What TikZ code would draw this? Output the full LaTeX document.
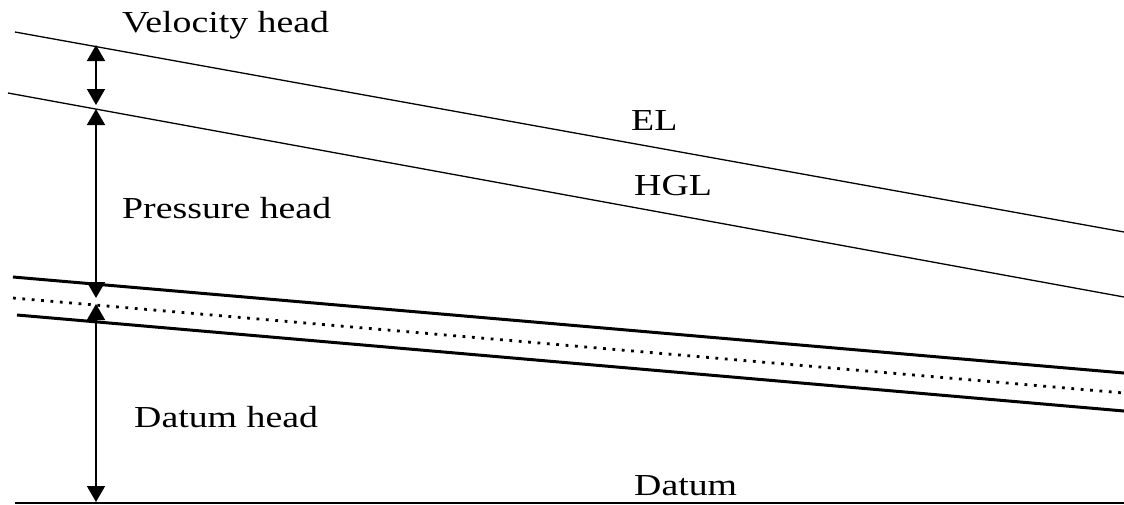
\documentclass[tikz,border=0pt]{standalone}
\usepackage{fontspec}
\usepackage{graphicx}
\setmainfont{Liberation Serif}
\usetikzlibrary{arrows.meta}
\tikzset{
  thinline/.style={line width=1.3pt},
  pipeline/.style={line width=3pt},
  centerline/.style={line width=2.8pt, dash pattern=on 2.8pt off 6.6pt},
  datumline/.style={line width=2pt},
  headarrow/.style={line width=1.6pt, {Triangle[length=16pt,width=18pt]}-{Triangle[length=16pt,width=18pt]}},
  lbl/.style={inner sep=0pt, anchor=base west, font=\fontsize{30.5}{36}\selectfont}
}
\newcommand{\wide}[1]{\scalebox{1.24}[1]{#1}}
\begin{document}
\begin{tikzpicture}[x=1pt,y=-1pt]
\useasboundingbox (0,0) rectangle (1124,504);
% line end points
\coordinate (el1) at (15,32);
\coordinate (el2) at (1124,232);
\coordinate (hg1) at (8,93);
\coordinate (hg2) at (1124,297);
\coordinate (pt1) at (13,277);
\coordinate (pt2) at (1124,373);
\coordinate (cl1) at (13,298);
\coordinate (cl2) at (1124,393);
\coordinate (pb1) at (17,315);
\coordinate (pb2) at (1124,411);
\coordinate (d1) at (15,502.5);
\coordinate (d2) at (1124,502.5);
% arrow end points
\coordinate (va) at (96,45);
\coordinate (vb) at (96,105);
\coordinate (pa) at (96,109);
\coordinate (pb) at (96,298);
\coordinate (da) at (96,304);
\coordinate (db) at (96,502);
% lines
\draw[thinline] (el1) -- (el2);
\draw[thinline] (hg1) -- (hg2);
\draw[pipeline] (pt1) -- (pt2);
\draw[centerline] (cl1) -- (cl2);
\draw[pipeline] (pb1) -- (pb2);
\draw[datumline] (d1) -- (d2);
% arrows
\draw[headarrow] (va) -- (vb);
\draw[headarrow] (pa) -- (pb);
\draw[headarrow] (da) -- (db);
% labels
\node[lbl] (tv) at (122,32) {\wide{Velocity head}};
\node[lbl] (tel) at (631,130) {\wide{EL}};
\node[lbl] (thgl) at (634,195) {\wide{HGL}};
\node[lbl] (tp) at (122,218) {\wide{Pressure head}};
\node[lbl] (td) at (134,427) {\wide{Datum head}};
\node[lbl] (tdat) at (634,495) {\wide{Datum}};
\end{tikzpicture}
\end{document}
